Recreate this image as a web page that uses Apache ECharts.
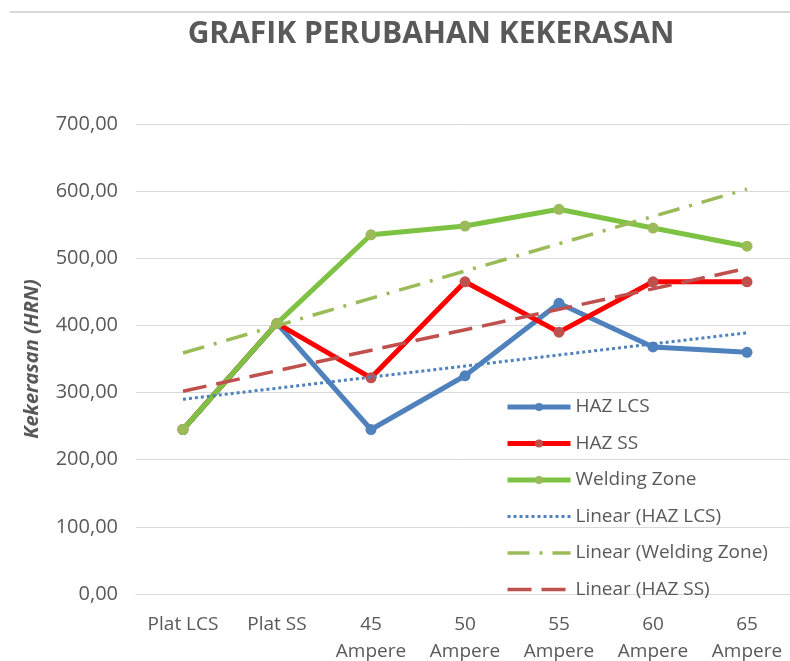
<!DOCTYPE html>
<html>
<head>
<meta charset="utf-8">
<script src="https://cdn.jsdelivr.net/npm/echarts@6/dist/echarts.min.js"></script>
<style>
html,body{margin:0;padding:0;background:#fff;}
#c{width:790px;height:661px;}
</style>
</head>
<body>
<div id="c"></div>
<script>
var categories = ['Plat LCS', 'Plat SS', '45\nAmpere', '50\nAmpere', '55\nAmpere', '60\nAmpere', '65\nAmpere'];
var hazLCS = [245, 403, 245, 325, 433, 368, 360];
var hazSS = [245, 403, 322, 465, 390, 465, 465];
var weldingZone = [245, 403, 535, 548, 573, 545, 518];
// trendline endpoints (first and last category)
var trendLCS = [290, 389];
var trendWZ = [359, 603];
var trendSS = [302, 485];
var yTicks = [0, 100, 200, 300, 400, 500, 600, 700];

var FONT = 'Open Sans';
var chart = echarts.init(document.getElementById('c'));
function ends(arr){ return [[0, arr[0]], [categories.length - 1, arr[1]]]; }
var noMarker = {color: 'rgba(0,0,0,0)', borderWidth: 0};

chart.setOption({
  animation: false,
  backgroundColor: '#fff',
  title: {
    text: 'GRAFIK PERUBAHAN KEKERASAN',
    left: 426, top: 14, textAlign: 'center',
    textStyle: {fontFamily: FONT, fontWeight: 'bold', fontSize: 30, color: '#595959'}
  },
  graphic: [{
    type: 'line', shape: {x1: 10, y1: 12, x2: 790, y2: 12},
    style: {stroke: '#D9D9D9', lineWidth: 2}
  }],
  grid: {left: 136, top: 124, width: 658, height: 470, outerBoundsMode: 'none', containLabel: false},
  legend: {
    orient: 'vertical', left: 500, top: 391,
    itemWidth: 63, itemHeight: 10, itemGap: 14.5,
    lineStyle: {width: 'inherit'},
    textStyle: {fontFamily: FONT, fontSize: 19, color: '#595959', lineHeight: 22},
    data: [
      {name: 'HAZ LCS'},
      {name: 'HAZ SS'},
      {name: 'Welding Zone'},
      {name: 'Linear (HAZ LCS)', itemStyle: noMarker},
      {name: 'Linear (Welding Zone)', itemStyle: noMarker},
      {name: 'Linear (HAZ SS)', itemStyle: noMarker}
    ]
  },
  xAxis: {
    type: 'category', data: categories, boundaryGap: true,
    axisLine: {show: true, lineStyle: {color: '#D9D9D9', width: 1}},
    axisTick: {show: false},
    axisLabel: {fontFamily: FONT, fontSize: 19, color: '#595959', margin: 17, lineHeight: 27, interval: 0}
  },
  yAxis: {
    type: 'value', min: yTicks[0], max: yTicks[yTicks.length - 1], interval: 100,
    name: 'Kekerasan (HRN)', nameLocation: 'middle', nameGap: 94, nameRotate: 90,
    nameTextStyle: {fontFamily: FONT, fontSize: 20, fontWeight: 'bold', fontStyle: 'italic', color: '#595959'},
    axisLine: {show: false}, axisTick: {show: false},
    splitLine: {lineStyle: {color: '#D9D9D9', width: 1}},
    axisLabel: {
      fontFamily: FONT, fontSize: 20, color: '#595959', margin: 18,
      formatter: function(v){ return v.toFixed(2).replace('.', ','); }
    }
  },
  series: [
    {name: 'HAZ LCS', type: 'line', data: hazLCS, symbol: 'circle', symbolSize: 11, z: 3,
     lineStyle: {color: '#4F81BD', width: 5}, itemStyle: {color: '#4F81BD'}},
    {name: 'HAZ SS', type: 'line', data: hazSS, symbol: 'circle', symbolSize: 11, z: 4,
     lineStyle: {color: '#FF0000', width: 5}, itemStyle: {color: '#C0504D'}},
    {name: 'Welding Zone', type: 'line', data: weldingZone, symbol: 'circle', symbolSize: 11, z: 5,
     lineStyle: {color: '#7DC243', width: 5}, itemStyle: {color: '#9BBB59'}},
    {name: 'Linear (HAZ LCS)', type: 'line', data: ends(trendLCS), symbol: 'none', z: 6,
     lineStyle: {color: '#4F81BD', width: 3, type: [3, 3]}, itemStyle: {color: '#4F81BD'}},
    {name: 'Linear (Welding Zone)', type: 'line', data: ends(trendWZ), symbol: 'none', z: 6,
     lineStyle: {color: '#9BBB59', width: 3.5, type: [22, 10, 3, 10]}, itemStyle: {color: '#9BBB59'}},
    {name: 'Linear (HAZ SS)', type: 'line', data: ends(trendSS), symbol: 'none', z: 6,
     lineStyle: {color: '#C0504D', width: 3.5, type: [24, 10]}, itemStyle: {color: '#C0504D'}}
  ]
});
</script>
</body>
</html>
